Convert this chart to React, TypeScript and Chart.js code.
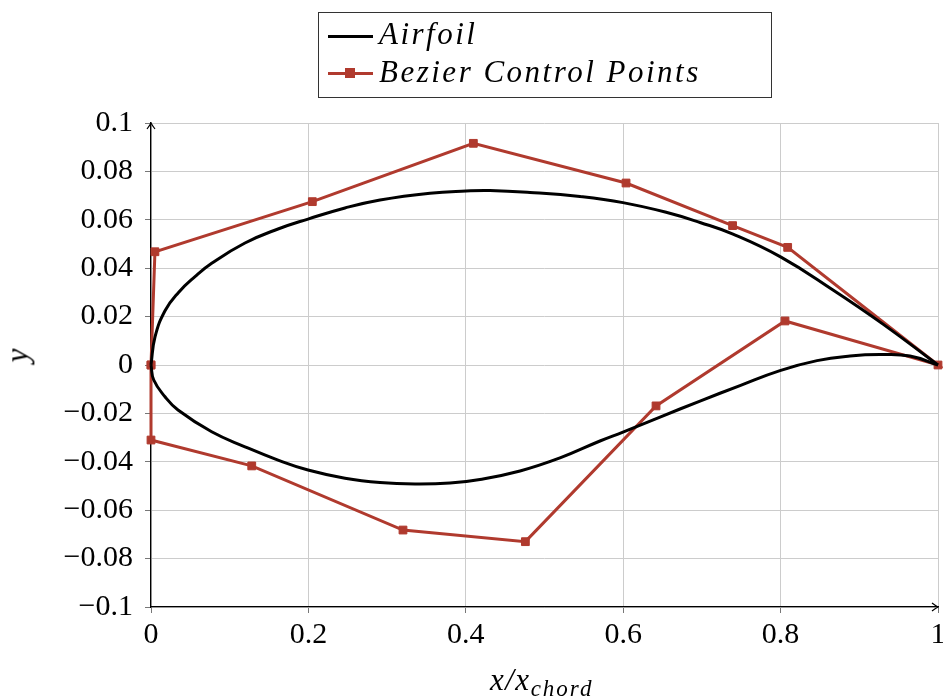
import React, { useEffect, useRef } from "react";
import { Chart, registerables } from "chart.js";
Chart.register(...registerables);

// Airfoil upper surface (leading edge -> trailing edge)
const upperX = [0, 0.0051, 0.0178, 0.0347, 0.0559, 0.0771, 0.1194, 0.1614, 0.1995, 0.2465, 0.291, 0.3545, 0.4003, 0.4307, 0.4816, 0.5451, 0.5997, 0.6557, 0.6976, 0.7395, 0.8005, 0.8666, 0.9301, 1];
const upperY = [0, 0.0116, 0.0224, 0.0299, 0.0365, 0.042, 0.0504, 0.0562, 0.0603, 0.0649, 0.0682, 0.071, 0.0719, 0.0721, 0.0713, 0.0696, 0.0671, 0.063, 0.0589, 0.0541, 0.0446, 0.031, 0.0169, 0];
// Airfoil lower surface (leading edge -> trailing edge)
const lowerX = [0, 0.0035, 0.0178, 0.0343, 0.0771, 0.1194, 0.1614, 0.1995, 0.2465, 0.291, 0.3355, 0.3799, 0.418, 0.4689, 0.5197, 0.5705, 0.5997, 0.6468, 0.6976, 0.7484, 0.7992, 0.8463, 0.8882, 0.9263, 0.9644, 1];
const lowerY = [0, -0.0062, -0.0131, -0.0186, -0.0276, -0.0338, -0.0393, -0.0434, -0.0468, -0.0486, -0.0492, -0.0488, -0.0473, -0.0438, -0.0384, -0.0314, -0.0277, -0.0215, -0.0149, -0.0085, -0.0023, 0.0018, 0.0037, 0.0043, 0.0037, 0];
// Bezier control polygon
const ctrlX = [0, 0.005, 0.205, 0.4096, 0.6036, 0.739, 0.809, 1, 0.8056, 0.6417, 0.4757, 0.3202, 0.128, 0, 0];
const ctrlY = [0, 0.0468, 0.0675, 0.0916, 0.0752, 0.0576, 0.0486, 0, 0.0182, -0.0169, -0.073, -0.0682, -0.0417, -0.031, 0];

const xTicks = [0, 0.2, 0.4, 0.6, 0.8, 1];
const yTicks = [-0.1, -0.08, -0.06, -0.04, -0.02, 0, 0.02, 0.04, 0.06, 0.08, 0.1];

const legendLabels = ["Airfoil", "Bezier Control Points"];
const xTitleMain = "x/x";
const xTitleSub = "chord";
const yTitle = "y";

const RED = "#B03A2E";
const SERIF = "'Liberation Serif', 'Times New Roman', serif";

const fmt = (v: number) => {
  const r = Math.round(v * 1000) / 1000;
  const s = String(r);
  return s.replace("-", "\u2212");
};

const toPts = (xs: number[], ys: number[]) => xs.map((x, i) => ({ x, y: ys[i] }));

const arrowPlugin = {
  id: "axisArrows",
  afterDraw(chart: any) {
    const { ctx, chartArea } = chart;
    const { left, bottom, top, right } = chartArea;
    ctx.save();
    ctx.strokeStyle = "#000";
    ctx.lineWidth = 1.2;
    ctx.beginPath();
    ctx.moveTo(left - 4, top + 6);
    ctx.quadraticCurveTo(left - 1, top + 2, left, top);
    ctx.quadraticCurveTo(left + 1, top + 2, left + 4, top + 6);
    ctx.moveTo(right - 6, bottom - 4);
    ctx.quadraticCurveTo(right - 2, bottom - 1, right, bottom);
    ctx.quadraticCurveTo(right - 2, bottom + 1, right - 6, bottom + 4);
    ctx.stroke();
    ctx.restore();
  },
};

export default function App() {
  const ref = useRef<HTMLCanvasElement | null>(null);
  useEffect(() => {
    if (!ref.current) return;
    const curve = {
      borderColor: "#000",
      borderWidth: 3,
      pointRadius: 0,
      fill: false,
      tension: 0.45,
      capBezierPoints: false,
      clip: false as any,
    };
    const chart = new Chart(ref.current, {
      type: "line",
      data: {
        datasets: [
          { ...curve, label: legendLabels[0], data: toPts(upperX, upperY) },
          { ...curve, label: legendLabels[0] + " (lower)", data: toPts(lowerX, lowerY) },
          {
            label: legendLabels[1],
            data: toPts(ctrlX, ctrlY),
            borderColor: RED,
            borderWidth: 3,
            fill: false,
            pointStyle: "rect",
            pointRadius: 5.5,
            pointBackgroundColor: RED,
            pointBorderColor: RED,
            pointBorderWidth: 1,
            tension: 0,
            clip: false as any,
          },
        ],
      },
      options: {
        animation: false,
        responsive: false,
        layout: { padding: { top: 123, right: 22, left: 0, bottom: 0 } },
        plugins: { legend: { display: false }, tooltip: { enabled: false } },
        scales: {
          x: {
            type: "linear",
            min: 0,
            max: 1,
            afterBuildTicks: (s: any) => {
              s.ticks = xTicks.map((v) => ({ value: v }));
            },
            afterFit: (s: any) => {
              s.height = 90;
            },
            ticks: {
              callback: (v: any) => fmt(Number(v)),
              font: { family: SERIF, size: 30 },
              color: "#000",
              padding: 4,
              maxRotation: 0,
            },
            grid: { color: "#cccccc", lineWidth: 1, tickLength: 6, tickColor: "#777" },
            border: { color: "#000", width: 1.3 },
          },
          y: {
            type: "linear",
            min: -0.1,
            max: 0.1,
            afterBuildTicks: (s: any) => {
              s.ticks = yTicks.map((v) => ({ value: v }));
            },
            afterFit: (s: any) => {
              s.width = 151;
            },
            ticks: {
              callback: (v: any) => fmt(Number(v)),
              font: { family: SERIF, size: 30 },
              color: "#000",
              padding: 12,
            },
            grid: { color: "#cccccc", lineWidth: 1, tickLength: 6, tickColor: "#777" },
            border: { color: "#000", width: 1.3 },
          },
        },
      },
      plugins: [arrowPlugin],
    } as any);
    return () => chart.destroy();
  }, []);

  const textStyle: React.CSSProperties = {
    position: "absolute",
    fontFamily: SERIF,
    fontStyle: "italic",
    fontSize: 31,
    lineHeight: "31px",
    letterSpacing: "2.5px",
    whiteSpace: "nowrap",
    color: "#000",
  };

  return (
    <div style={{ position: "fixed", left: 0, top: 0, width: 960, height: 697, background: "#fff", overflow: "hidden" }}>
      <canvas ref={ref} width={960} height={697} style={{ position: "absolute", left: 0, top: 0 }} />
      {/* legend */}
      <div style={{ position: "absolute", left: 318, top: 12, width: 452, height: 84, border: "1px solid #333" }} />
      <div style={{ position: "absolute", left: 328, top: 35, width: 45, height: 3, background: "#000" }} />
      <div style={{ ...textStyle, left: 379, top: 18 }}>{legendLabels[0]}</div>
      <div style={{ position: "absolute", left: 328, top: 71.5, width: 45, height: 3, background: RED }} />
      <div style={{ position: "absolute", left: 345, top: 68, width: 10, height: 10, background: RED }} />
      <div style={{ ...textStyle, left: 379, top: 56 }}>{legendLabels[1]}</div>
      {/* axis titles */}
      <div style={{ ...textStyle, letterSpacing: "0px", left: 10, top: 340, transform: "rotate(-90deg)", transformOrigin: "center" }}>{yTitle}</div>
      <div style={{ ...textStyle, letterSpacing: "1.5px", left: 490, top: 664 }}>
        {xTitleMain}
        <span style={{ fontSize: 23, position: "relative", top: 6, letterSpacing: "2px" }}>{xTitleSub}</span>
      </div>
    </div>
  );
}
